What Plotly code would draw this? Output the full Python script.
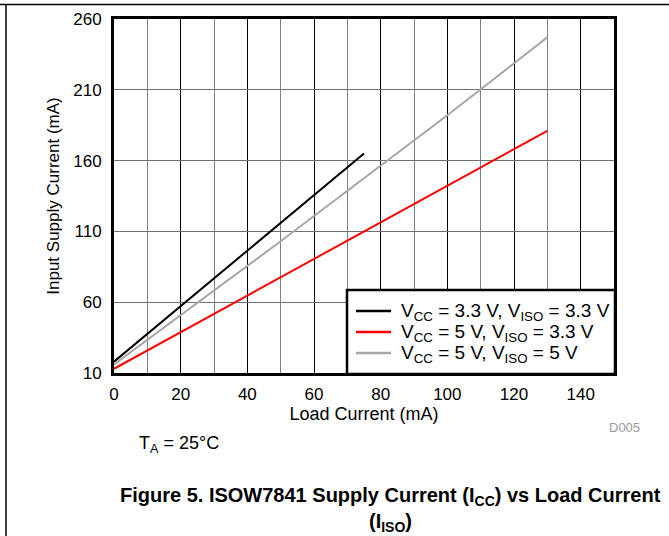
import plotly.graph_objects as go

# Data
load_black = [0, 20, 50, 75]
icc_black = [18, 57.2, 116, 165]

load_red = [0, 40, 80, 130]
icc_red = [13, 64.7, 116, 181]

load_gray = [0, 50, 100, 130]
icc_gray = [16, 103, 192, 247]

names = [
    "V<sub>CC</sub> = 3.3 V, V<sub>ISO</sub> = 3.3 V",
    "V<sub>CC</sub> = 5 V, V<sub>ISO</sub> = 3.3 V",
    "V<sub>CC</sub> = 5 V, V<sub>ISO</sub> = 5 V",
]
colors = ["#000000", "#ff0000", "#a6a6a6"]

x_ticks = [0, 20, 40, 60, 80, 100, 120, 140]
x_minor = [10, 30, 50, 70, 90, 110, 130]
y_ticks = [10, 60, 110, 160, 210, 260]

FONT = "Liberation Sans, Arial, sans-serif"

# plot area in pixels (for positioning the legend box / frame)
L, T, W, H = 114, 19, 500, 354


def px(xp):
    return (xp - L) / W


def py(yp):
    return (T + H - yp) / H


fig = go.Figure()
series = [(load_black, icc_black), (load_red, icc_red), (load_gray, icc_gray)]
for (xs, ys), nm, c in zip(series, names, colors):
    fig.add_trace(go.Scatter(x=xs, y=ys, mode="lines", name=nm, showlegend=False,
                             line=dict(color=c, width=2)))

# legend box, drawn as shapes + text
shapes = [
    dict(type="rect", xref="paper", yref="paper", x0=px(347), x1=px(615), y0=py(374), y1=py(290),
         fillcolor="white", line=dict(color="#000000", width=2.5), layer="above"),
    dict(type="line", xref="paper", yref="paper", x0=-0.3, x1=1.2, y0=py(4.5), y1=py(4.5),
         line=dict(color="#000000", width=1.5)),
    dict(type="line", xref="paper", yref="paper", x0=px(6), x1=px(6), y0=py(4.5), y1=-0.5,
         line=dict(color="#000000", width=1.5)),
]
annotations = []
row_y = [311, 332, 353]
for nm, c, ry in zip(names, colors, row_y):
    shapes.append(dict(type="line", xref="paper", yref="paper", x0=px(356), x1=px(391),
                       y0=py(ry), y1=py(ry), line=dict(color=c, width=2.5), layer="above"))
    annotations.append(dict(text=nm, xref="paper", yref="paper", x=px(399), y=py(ry + 1),
                            xanchor="left", yanchor="middle", showarrow=False,
                            height=20, valign="middle",
                            font=dict(size=19)))

annotations += [
    dict(text="D005", xref="paper", yref="paper", x=1.02, y=-0.153,
         xanchor="center", yanchor="middle",
         showarrow=False, font=dict(size=13, color="#999999")),
    dict(text="T<sub>A</sub> = 25°C", xref="paper", yref="paper", x=0.046, y=-0.203,
         xanchor="left", yanchor="middle", showarrow=False, font=dict(size=18)),
    dict(text="<b>Figure 5. ISOW7841 Supply Current (I<sub>CC</sub>) vs Load Current</b>",
         xref="paper", yref="paper", x=0.552, y=-0.35, xanchor="center", yanchor="middle",
         showarrow=False, font=dict(size=20)),
    dict(text="<b>(I<sub>ISO</sub>)</b>",
         xref="paper", yref="paper", x=0.552, y=-0.421, xanchor="center", yanchor="middle",
         showarrow=False, font=dict(size=20)),
]

fig.update_layout(
    width=669, height=536,
    margin=dict(l=L, r=669 - L - W, t=T, b=536 - T - H, autoexpand=False),
    paper_bgcolor="white", plot_bgcolor="white",
    font=dict(family=FONT, size=17, color="#000000"),
    showlegend=False,
    xaxis=dict(range=[0, 150], tickvals=x_ticks, ticktext=[str(v) for v in x_ticks],
               showgrid=True, gridcolor="#000000", gridwidth=1,
               minor=dict(tickvals=x_minor, showgrid=True, gridcolor="#808080", gridwidth=1, ticks=""),
               showline=True, linecolor="#000000", linewidth=3, mirror=True,
               ticks="", zeroline=False, ticklabelstandoff=4,
               title=dict(text="Load Current (mA)", font=dict(size=18), standoff=0),
               tickfont=dict(size=17)),
    yaxis=dict(range=[10, 260], tickvals=y_ticks, ticktext=[str(v) for v in y_ticks],
               showgrid=True, gridcolor="#707070", gridwidth=1,
               showline=True, linecolor="#000000", linewidth=3, mirror=True,
               ticks="", zeroline=False, ticklabelstandoff=6,
               title=dict(text="Input Supply Current (mA)", font=dict(size=17), standoff=10),
               tickfont=dict(size=17)),
    annotations=annotations,
    shapes=shapes,
)

fig.write_html("out.html", config={"displayModeBar": False},
               post_script="document.body.style.margin='0';")
